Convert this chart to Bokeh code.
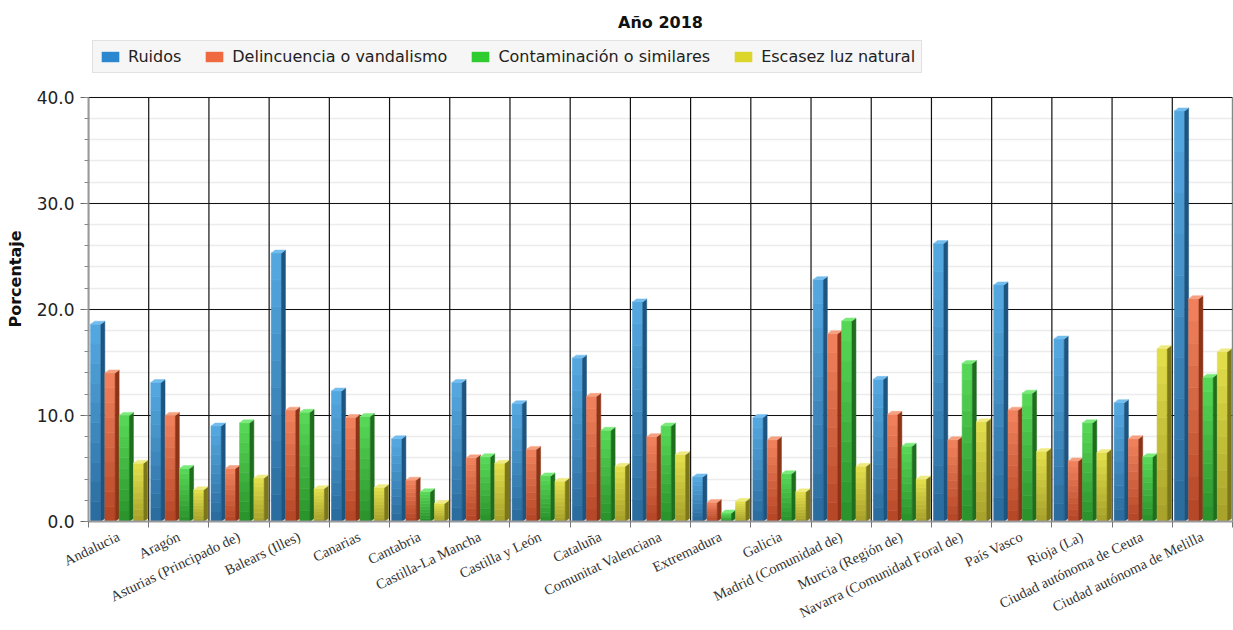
import numpy as np
from bokeh.plotting import figure
from bokeh.models import (Range1d, FixedTicker, SingleIntervalTicker, Legend,
                          LegendItem, NumeralTickFormatter)
from bokeh.embed import file_html
from bokeh.resources import INLINE

# ---------------- data ----------------
regions = ["Andalucia", "Aragón", "Asturias (Principado de)", "Balears (Illes)",
           "Canarias", "Cantabria", "Castilla-La Mancha", "Castilla y León",
           "Cataluña", "Comunitat Valenciana", "Extremadura", "Galicia",
           "Madrid (Comunidad de)", "Murcia (Región de)",
           "Navarra (Comunidad Foral de)", "País Vasco", "Rioja (La)",
           "Ciudad autónoma de Ceuta", "Ciudad autónoma de Melilla"]
series_names = ["Ruidos", "Delincuencia o vandalismo",
                "Contaminación o similares", "Escasez luz natural"]
ruidos = [18.6, 13.1, 9.0, 25.3, 12.3, 7.8, 13.1, 11.1, 15.4, 20.7,
          4.2, 9.8, 22.8, 13.4, 26.2, 22.3, 17.2, 11.2, 38.7]
delincuencia = [14.0, 10.0, 5.0, 10.5, 9.8, 3.9, 6.0, 6.8, 11.8, 8.0,
                1.8, 7.7, 17.7, 10.1, 7.7, 10.5, 5.7, 7.8, 21.0]
contaminacion = [10.0, 5.0, 9.3, 10.3, 9.9, 2.8, 6.1, 4.3, 8.6, 9.0,
                 0.8, 4.5, 18.9, 7.1, 14.9, 12.1, 9.3, 6.1, 13.6]
escasez = [5.5, 3.0, 4.1, 3.1, 3.2, 1.7, 5.5, 3.8, 5.2, 6.3,
           1.9, 2.8, 5.2, 4.0, 9.4, 6.6, 6.5, 16.3, 16.0]
y_ticks = [0, 10, 20, 30, 40]

series_values = [ruidos, delincuencia, contaminacion, escasez]

# ---------------- style ----------------
top_cols = ["#55aae2", "#f2835e", "#58da58", "#e4e04c"]
bot_cols = ["#2a6a9c", "#b44524", "#29902a", "#a6a02a"]
side_cols = ["#1d5580", "#8c3418", "#1e6e1e", "#7c781a"]
cap_cols = ["#72bcee", "#f6a080", "#7aea7a", "#efeb80"]
leg_fill = ["#2a87d0", "#ef6a3e", "#2ecc2e", "#dcd62a"]
leg_line = ["#1a5a90", "#a0401f", "#1a8a1a", "#8a8620"]

FONT = "DejaVu Sans"
n = len(regions)
W, H = 1233, 630
BL, BR, BT, BB = 88, 1, 36, 106
AXIS_TOP_PX = 97           # pixel row of the y=40 line
ymax = y_ticks[-1]
y_end = ymax * (H - BB - BT) / (H - BB - AXIS_TOP_PX)

p = figure(width=W, height=H, output_backend="svg", toolbar_location=None,
           x_range=Range1d(0, n), y_range=Range1d(0, y_end),
           min_border_left=BL, min_border_right=BR, min_border_top=BT,
           min_border_bottom=BB, background_fill_color="white",
           border_fill_color="white")
p.outline_line_color = None
p.title.text = "Año 2018"
p.title.align = "center"
p.title.text_font = FONT
p.title.text_font_style = "bold"
p.title.text_font_size = "16px"
p.title.text_color = "#111111"


def mix(c1, c2, t):
    a = np.array([int(c1[i:i + 2], 16) for i in (1, 3, 5)], float)
    b = np.array([int(c2[i:i + 2], 16) for i in (1, 3, 5)], float)
    c = a + (b - a) * t
    return "#%02x%02x%02x" % tuple(int(round(v)) for v in c)


centers = np.arange(n) + 0.5
bounds = np.arange(n + 1)

# vertical grid lines between regions (bounded to the axis range)
p.segment(x0=bounds, y0=[0] * (n + 1), x1=bounds, y1=[ymax] * (n + 1),
          line_color="#111111", line_width=1.2)

fw = 0.17       # front face width (category units)
sw = 0.066      # side depth in x
dy = 0.28       # depth in y
step = 0.2375
first = -0.38
NSEG = 10

legend_renderers = []
for k, vals in enumerate(series_values):
    v = np.array(vals, float)
    xc = centers + first + step * k
    for j in range(NSEG):
        col = mix(bot_cols[k], top_cols[k], (j + 0.5) / NSEG)
        p.vbar(x=xc, bottom=v * j / NSEG, top=v * (j + 1) / NSEG, width=fw,
               fill_color=col, line_color=col, line_width=0.6)
    xr = xc + fw / 2
    xl = xc - fw / 2
    side_xs = [[a, a + sw, a + sw, a] for a in xr]
    side_ys = [[0, dy, b + dy, b] for b in v]
    p.patches(side_xs, side_ys, fill_color=side_cols[k], line_color=side_cols[k],
              line_width=0.5)
    cap_xs = [[a, b, b + sw, a + sw] for a, b in zip(xl, xr)]
    cap_ys = [[b, b, b + dy, b + dy] for b in v]
    p.patches(cap_xs, cap_ys, fill_color=cap_cols[k], line_color=cap_cols[k],
              line_width=0.5)
    # zero-height bars carrying the legend swatch style
    r = p.vbar(x=xc, bottom=0 * v, top=0 * v, width=fw, fill_color=leg_fill[k],
               line_color=leg_line[k], line_alpha=0.0)
    legend_renderers.append(r)

items = [LegendItem(label=name, renderers=[legend_renderers[k]])
         for k, name in enumerate(series_names)]
legend = Legend(items=items, orientation="horizontal", location="top_left",
                label_text_font=FONT, label_text_font_size="16px",
                label_text_color="#222222", glyph_width=22, glyph_height=13,
                label_standoff=7, spacing=22, padding=6, margin=4,
                border_line_color="#cccccc", background_fill_color="#f6f6f6")
p.add_layout(legend)

# x axis
xa = p.xaxis[0]
xa.ticker = FixedTicker(ticks=list(centers), minor_ticks=list(bounds))
xa.major_label_overrides = {float(c): r for c, r in zip(centers, regions)}
xa.major_label_orientation = 0.45
xa.major_tick_line_color = None
xa.major_tick_out = 0
xa.minor_tick_out = 6
xa.minor_tick_in = 0
xa.minor_tick_line_color = "#777777"
xa.axis_line_color = "#999999"
xa.axis_line_width = 2
xa.major_label_text_font = "Liberation Serif"
xa.major_label_text_font_size = "14.5px"
xa.major_label_text_color = "#333333"
xa.major_label_standoff = 8
p.xgrid.grid_line_color = None

# y axis
ya = p.yaxis[0]
ya.bounds = (0, ymax)
ya.ticker = SingleIntervalTicker(interval=10, num_minor_ticks=5)
ya.formatter = NumeralTickFormatter(format="0.0")
ya.axis_label = "Porcentaje"
ya.axis_label_text_font = FONT
ya.axis_label_text_font_style = "bold"
ya.axis_label_text_font_size = "16px"
ya.axis_label_text_color = "#111111"
ya.axis_label_standoff = 9
ya.major_label_text_font = FONT
ya.major_label_text_font_size = "17px"
ya.major_label_text_color = "#222222"
ya.major_label_standoff = 6
ya.major_tick_out = 8
ya.major_tick_in = 0
ya.minor_tick_out = 4
ya.minor_tick_in = 0
ya.major_tick_line_color = "#666666"
ya.minor_tick_line_color = "#888888"
ya.axis_line_color = "#999999"
ya.axis_line_width = 2

p.ygrid.bounds = (0, ymax)
p.ygrid.grid_line_color = "#111111"
p.ygrid.grid_line_width = 1.2
p.ygrid.minor_grid_line_color = "#ececec"
p.ygrid.minor_grid_line_width = 1.5

open("out.html", "w").write(file_html(p, INLINE))
